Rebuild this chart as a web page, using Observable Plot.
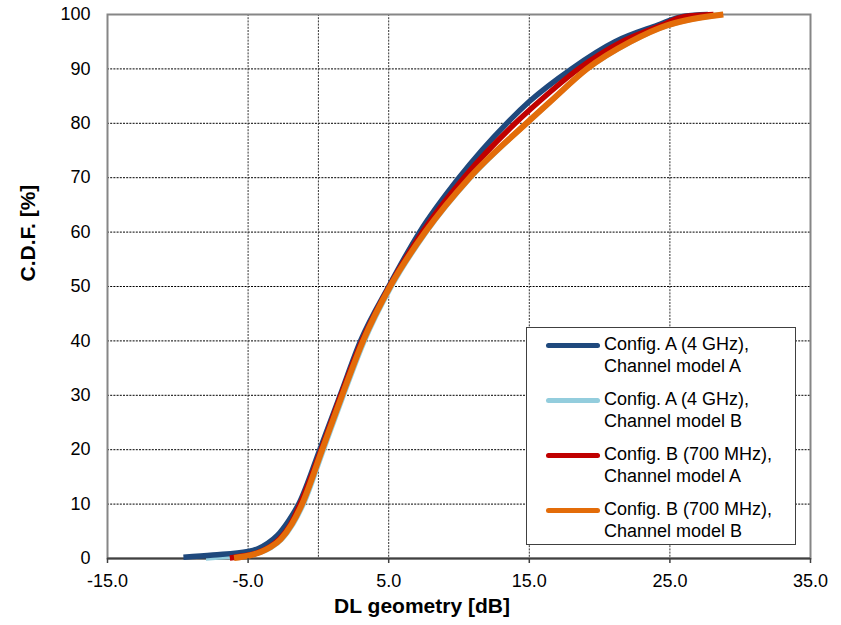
<!DOCTYPE html>
<html>
<head>
<meta charset="utf-8">
<script src="https://cdn.jsdelivr.net/npm/d3@7"></script>
<script src="https://cdn.jsdelivr.net/npm/@observablehq/plot@0.6"></script>
<style>
  html, body { margin: 0; padding: 0; background: #fff; }
  #wrap { position: relative; width: 841px; height: 625px; font-family: "Liberation Sans", Arial, sans-serif; }
  #legend { position: absolute; left: 526px; top: 327px; width: 270px; height: 218px; border: 1.5px solid #404040; background: #fff; box-sizing: border-box; }
  .entry { position: absolute; left: 0; width: 100%; height: 50px; }
  .swatch { position: absolute; left: 19px; width: 54px; height: 5px; border-radius: 3px; }
  .label { position: absolute; left: 77px; font-size: 18px; line-height: 21.5px; color: #000; white-space: nowrap; }
</style>
</head>
<body>
<div id="wrap"></div>
<script>
// ---- data ----
const seriesNames = [
  "Config. A (4 GHz), Channel model A",
  "Config. A (4 GHz), Channel model B",
  "Config. B (700 MHz), Channel model A",
  "Config. B (700 MHz), Channel model B"
];
const legendLines = [
  ["Config. A (4 GHz),", "Channel model A"],
  ["Config. A (4 GHz),", "Channel model B"],
  ["Config. B (700 MHz),", "Channel model A"],
  ["Config. B (700 MHz),", "Channel model B"]
];
const seriesColors = ["#1F497D", "#93CDDD", "#C00000", "#E36C09"];

// [DL geometry dB, CDF %]
const configA_modelA = [[-9.6,0.25],[-7.5,0.65],[-5.0,1.3],[-4.3,1.8],[-3.6,2.8],[-2.9,4.3],[-2.1,7.0],[-1.4,10],[0.1,20],[1.55,30],[3.0,40],[5.0,50],[7.2,60],[10.0,70],[13.4,80],[15.0,84],[18.0,90],[21.1,95],[24.1,98],[26.0,99.7],[27.7,100]];
const configA_modelB = [[-8.0,0.1],[-6.5,0.35],[-5.0,0.7],[-4.2,1.1],[-3.4,2.0],[-2.6,3.6],[-1.8,6.4],[-1.08,10],[0.35,20],[1.77,30],[3.26,40],[5.18,50],[7.65,60],[10.8,70],[14.8,80],[16.5,84],[19.1,90],[22.2,95],[24.8,98],[26.1,98.9],[28.7,100]];
const configB_modelA = [[-6.3,0.1],[-5.5,0.4],[-4.5,0.9],[-3.6,1.9],[-2.8,3.5],[-2.0,6.2],[-1.3,10],[0.2,20],[1.6,30],[3.1,40],[5.05,50],[7.4,60],[10.35,70],[14.0,80],[15.7,84],[18.5,90],[21.6,95],[24.4,98],[26.0,99.6],[28.1,100]];
const configB_modelB = [[-6.0,0.1],[-5.0,0.5],[-4.1,1.2],[-3.4,2.1],[-2.7,3.5],[-1.9,6.3],[-1.16,10],[0.27,20],[1.69,30],[3.18,40],[5.1,50],[7.6,60],[10.75,70],[14.8,80],[16.5,84],[19.1,90],[22.2,95],[24.8,98],[26.1,98.9],[28.8,100]];

const xTicks = [-15, -5, 5, 15, 25, 35];
const xGrid = [-5, 0, 5, 15, 25];
const yTicks = [0, 10, 20, 30, 40, 50, 60, 70, 80, 90, 100];
const yGrid = [10, 20, 30, 40, 50, 60, 70, 80, 90];

const allSeries = [configA_modelA, configA_modelB, configB_modelA, configB_modelB];
const rows = allSeries.flatMap((s, i) => s.map(([x, p]) => ({series: seriesNames[i], x, p})));
const drawOrder = [1, 0, 2, 3];

const chart = Plot.plot({
  width: 841,
  height: 625,
  marginLeft: 107,
  marginRight: 31,
  marginTop: 14,
  marginBottom: 67,
  style: {fontFamily: '"Liberation Sans", Arial, sans-serif', background: "#fff"},
  x: {domain: [-15, 35]},
  y: {domain: [0, 100]},
  marks: [
    Plot.ruleY(yGrid, {stroke: "#000", strokeWidth: 1, strokeDasharray: "2,1.2"}),
    Plot.ruleX(xGrid, {stroke: "#333", strokeWidth: 1, strokeDasharray: "2,1.2"}),
    Plot.frame({stroke: "#868686", strokeWidth: 2}),
    Plot.ruleY([0], {stroke: "#404040", strokeWidth: 2}),
    ...drawOrder.map(i => Plot.line(rows.filter(d => d.series === seriesNames[i]), {
      x: "x", y: "p", stroke: seriesColors[i], strokeWidth: i === 3 ? 6 : 5.5, curve: "monotone-x", strokeLinecap: "butt"
    })),
    Plot.axisX({ticks: xTicks, tickSize: 5, tickPadding: 11, tickFormat: d => d.toFixed(1), fontSize: 18, stroke: "#404040", strokeWidth: 1.5, fill: "#000", label: null}),
    Plot.axisY({ticks: yTicks, tickSize: 0, tickPadding: 17, fontSize: 18, fill: "#000", label: null}),
    Plot.text(["DL geometry [dB]"], {frameAnchor: "bottom", text: d => d, dy: 54, dx: -37, fontSize: 21, fontWeight: "bold", fill: "#000"}),
    Plot.text(["C.D.F. [%]"], {frameAnchor: "left", text: d => d, rotate: -90, dx: -79, dy: -5, fontSize: 21, fontWeight: "bold", fill: "#000"})
  ]
});

const wrap = document.getElementById("wrap");
wrap.appendChild(chart);

const legend = document.createElement("div");
legend.id = "legend";
legendLines.forEach((lines, i) => {
  const e = document.createElement("div");
  e.className = "entry";
  e.style.top = (i * 55) + "px";
  const sw = document.createElement("div");
  sw.className = "swatch";
  sw.style.top = "14.5px";
  sw.style.background = seriesColors[i];
  const lb = document.createElement("div");
  lb.className = "label";
  lb.style.top = "6px";
  lb.innerHTML = lines.join("<br>");
  e.appendChild(sw);
  e.appendChild(lb);
  legend.appendChild(e);
});
wrap.appendChild(legend);
</script>
</body>
</html>
